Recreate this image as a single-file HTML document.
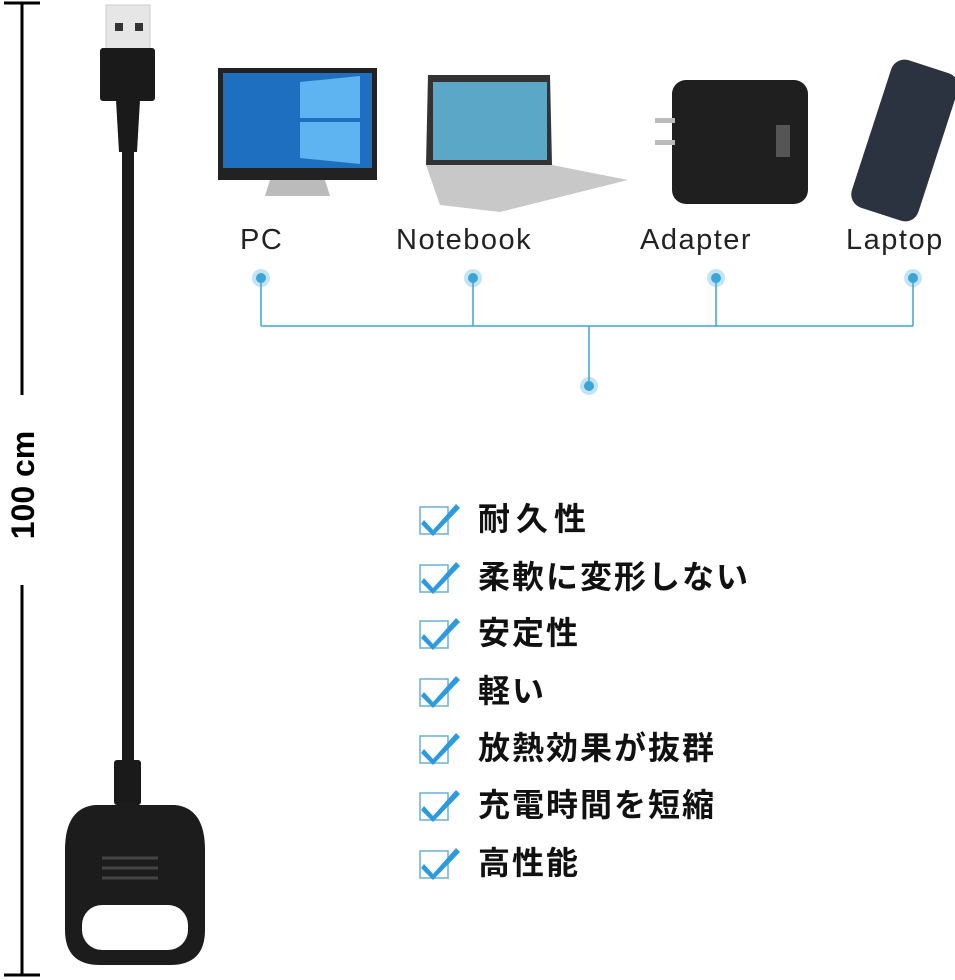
<!DOCTYPE html>
<html><head><meta charset="utf-8"><style>
body{margin:0;width:955px;height:980px;background:#fff;position:relative;overflow:hidden;font-family:"Liberation Sans","Noto Sans CJK JP",sans-serif}
.l{position:absolute;top:224px;font-size:29px;color:#222;letter-spacing:1.5px}
.it{position:absolute;left:478px;font-size:32px;font-weight:bold;color:#111;line-height:38px;letter-spacing:2px}
</style></head><body>
<svg width="955" height="980" style="position:absolute;left:0;top:0">
<line x1="22" y1="3" x2="22" y2="395" stroke="#000" stroke-width="3"/>
<line x1="22" y1="585" x2="22" y2="975" stroke="#000" stroke-width="3"/>
<line x1="4" y1="3" x2="40" y2="3" stroke="#000" stroke-width="3"/>
<line x1="4" y1="975" x2="40" y2="975" stroke="#000" stroke-width="3"/>
<text transform="translate(34,485) rotate(-90)" text-anchor="middle" font-family="Liberation Sans" font-weight="bold" font-size="32">100 cm</text>
<rect x="106" y="5" width="44" height="45" fill="#e6e6e6" stroke="#ccc"/>
<rect x="115" y="23" width="8" height="8" fill="#333"/><rect x="135" y="23" width="8" height="8" fill="#333"/>
<rect x="100" y="48" width="55" height="53" rx="3" fill="#1a1a1a"/>
<path d="M116 100 L140 100 L137 152 L119 152 Z" fill="#1a1a1a"/>
<rect x="122" y="150" width="12" height="615" fill="#1a1a1a"/>
<rect x="114" y="760" width="27" height="45" rx="3" fill="#1a1a1a"/>
<path d="M95 805 L175 805 Q205 808 205 850 L205 930 Q205 965 170 965 L100 965 Q65 965 65 930 L65 850 Q65 808 95 805 Z" fill="#1c1c1c"/>
<rect x="82" y="905" width="106" height="45" rx="20" fill="#fff"/>
<line x1="102" y1="858" x2="158" y2="858" stroke="#444" stroke-width="3"/>
<line x1="102" y1="868" x2="158" y2="868" stroke="#444" stroke-width="3"/>
<line x1="102" y1="878" x2="158" y2="878" stroke="#444" stroke-width="3"/>
<rect x="218" y="68" width="159" height="112" fill="#222"/>
<rect x="223" y="73" width="149" height="95" fill="#1e6fc0"/>
<path d="M300 82 L360 76 L360 118 L300 118 Z M300 122 L360 122 L360 164 L300 158 Z" fill="#5db4f0"/>
<path d="M270 180 L325 180 L330 196 L265 196 Z" fill="#bbb"/>
<path d="M428 75 L550 75 L552 165 L426 165 Z" fill="#333"/>
<rect x="433" y="82" width="114" height="78" fill="#5aa7c8"/>
<path d="M426 165 L552 165 L628 180 L500 212 L440 205 Z" fill="#c8c8c8"/>
<rect x="672" y="80" width="136" height="124" rx="14" fill="#1f1f1f"/>
<rect x="655" y="118" width="20" height="5" fill="#bbb"/><rect x="655" y="140" width="20" height="5" fill="#bbb"/>
<rect x="776" y="125" width="14" height="32" fill="#555"/>
<rect x="870" y="63" width="70" height="155" rx="14" fill="#2b3340" transform="rotate(18 905 140)"/>
<g stroke="#3aa6d8" stroke-width="1.5" fill="none">
<line x1="261" y1="278" x2="261" y2="326"/><line x1="473" y1="278" x2="473" y2="326"/>
<line x1="716" y1="278" x2="716" y2="326"/><line x1="913" y1="278" x2="913" y2="326"/>
<line x1="261" y1="326" x2="913" y2="326"/><line x1="589" y1="326" x2="589" y2="386"/>
</g>
<g fill="#3aa6d8">
<circle cx="261" cy="278" r="9" opacity=".3"/><circle cx="261" cy="278" r="5"/>
<circle cx="473" cy="278" r="9" opacity=".3"/><circle cx="473" cy="278" r="5"/>
<circle cx="716" cy="278" r="9" opacity=".3"/><circle cx="716" cy="278" r="5"/>
<circle cx="913" cy="278" r="9" opacity=".3"/><circle cx="913" cy="278" r="5"/>
<circle cx="589" cy="386" r="9" opacity=".3"/><circle cx="589" cy="386" r="5"/>
</g>
<defs><g id="ck"><rect x="0" y="7" width="28" height="27" fill="none" stroke="#6ab0d0" stroke-width="1.5"/><path d="M4 20 L13 30 L36 4 L40 8 L13 36 L1 24 Z" fill="#2a9be0"/></g></defs>
<use href="#ck" x="420" y="500"/><use href="#ck" x="420" y="558"/><use href="#ck" x="420" y="614"/>
<use href="#ck" x="420" y="672"/><use href="#ck" x="420" y="729"/><use href="#ck" x="420" y="786"/><use href="#ck" x="420" y="844"/>
</svg>
<div class="l" style="left:240px">PC</div>
<div class="l" style="left:396px">Notebook</div>
<div class="l" style="left:640px">Adapter</div>
<div class="l" style="left:846px">Laptop</div>
<div class="it" style="top:500px;letter-spacing:6px">耐久性</div>
<div class="it" style="top:558px">柔軟に変形しない</div>
<div class="it" style="top:614px">安定性</div>
<div class="it" style="top:672px">軽い</div>
<div class="it" style="top:729px">放熱効果が抜群</div>
<div class="it" style="top:786px">充電時間を短縮</div>
<div class="it" style="top:844px">高性能</div>
</body></html>
